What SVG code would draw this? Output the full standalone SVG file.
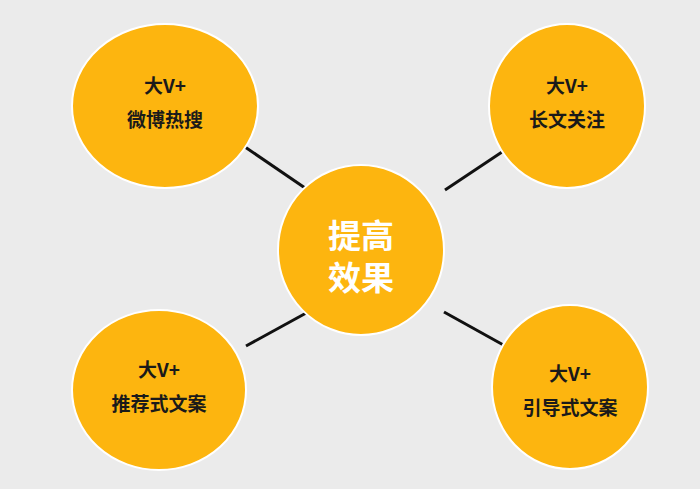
<svg xmlns="http://www.w3.org/2000/svg" width="700" height="489" viewBox="0 0 700 489">
<style>
.n{fill:#FDB50F;stroke:#fff;stroke-width:2}
.t{font-family:"Noto Sans CJK SC","Noto Sans",sans-serif;font-weight:bold;font-size:19px;fill:#1a1a1a;text-anchor:middle}
.c{font-family:"Noto Sans CJK SC",sans-serif;font-weight:bold;font-size:33px;fill:#fff;text-anchor:middle}
.l{stroke:#111;stroke-width:3}
</style>
<rect width="700" height="489" fill="#ebebeb"/>
<g id="connectors">
<line class="l" x1="245" y1="147" x2="308" y2="190"/>
<line class="l" x1="445" y1="190" x2="508" y2="148"/>
<line class="l" x1="246" y1="346" x2="308" y2="312"/>
<line class="l" x1="444" y1="312" x2="507" y2="347"/>
</g>
<g id="center"><ellipse class="n" cx="361" cy="250" rx="83" ry="85"/><text class="c" x="361" y="248">提高</text><text class="c" x="361" y="290">效果</text></g>
<g id="tl"><ellipse class="n" cx="165" cy="106" rx="93" ry="82"/><text class="t" x="165" y="93">大V+</text><text class="t" x="165" y="127">微博热搜</text></g>
<g id="tr"><ellipse class="n" cx="567" cy="106" rx="78" ry="82"/><text class="t" x="567" y="93">大V+</text><text class="t" x="567" y="127">长文关注</text></g>
<g id="bl"><ellipse class="n" cx="159" cy="390" rx="87" ry="80"/><text class="t" x="159" y="377">大V+</text><text class="t" x="159" y="411">推荐式文案</text></g>
<g id="br"><ellipse class="n" cx="570" cy="387" rx="78" ry="82"/><text class="t" x="570" y="381">大V+</text><text class="t" x="570" y="415">引导式文案</text></g>
</svg>
